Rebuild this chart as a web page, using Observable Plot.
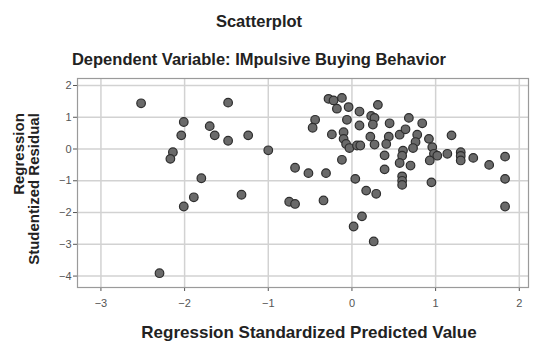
<!DOCTYPE html>
<html>
<head>
<meta charset="utf-8">
<script src="https://cdn.jsdelivr.net/npm/d3@7"></script>
<script src="https://cdn.jsdelivr.net/npm/@observablehq/plot@0.6"></script>
<style>
  body { margin: 0; background: #fff; }
  #wrap { position: relative; width: 536px; height: 345px; overflow: hidden; font-family: Arial, "Liberation Sans", sans-serif; color: #222; }
  .lbl { position: absolute; white-space: nowrap; }
  #title { left: 0; width: 518px; top: 12px; text-align: center; font-size: 16.5px; font-weight: bold; line-height: 19px; }
  #subtitle { left: 0; width: 518px; top: 50px; text-align: center; font-size: 16.5px; font-weight: bold; line-height: 19px; }
  #xlabel { left: 72px; width: 474px; top: 323px; text-align: center; font-size: 17px; font-weight: bold; line-height: 20px; }
  #ylabel { left: 25.5px; top: 189px; transform: translate(-50%, -50%) rotate(-90deg); text-align: right; font-size: 15px; font-weight: bold; line-height: 15px; }
  #chart { position: absolute; left: 0; top: 0; }
</style>
</head>
<body>
<div id="wrap">
  <div id="chart"></div>
  <div id="title" class="lbl">Scatterplot</div>
  <div id="subtitle" class="lbl">Dependent Variable: IMpulsive Buying Behavior</div>
  <div id="xlabel" class="lbl">Regression Standardized Predicted Value</div>
  <div id="ylabel" class="lbl">Regression<br>Studentized Residual</div>
</div>
<script>
// Regression Standardized Predicted Value
const predicted = [
  -2.52, -2.01, -2.04, -2.14, -2.17, -1.80, -1.70, -1.64, -1.48, -1.48,
  -1.24, -1.00, -0.68, -1.89, -2.01, -1.32, -0.75, -0.68, -2.30, -0.34,
  -0.52, -0.31, 0.04, 0.17, 0.29, 0.12, 0.02, 0.26, 0.60, 0.60,
  0.60, 0.95, 1.83, 1.83, -0.28, -0.22, -0.12, -0.18, -0.04, 0.09,
  0.31, 0.23, 0.27, -0.06, 0.09, 0.25, -0.44, -0.47, -0.24, -0.10,
  -0.10, -0.07, -0.03, 0.06, 0.10, 0.22, 0.27, 0.45, 0.44, 0.41,
  0.39, 0.39, 0.68, 0.84, 0.57, 0.64, 0.78, 0.76, 0.73, 0.61,
  0.60, 0.57, 0.70, 0.92, 0.96, 0.98, 1.02, 0.93, 1.19, 1.14,
  1.30, 1.30, 1.30, 1.45, 1.64, 1.83, -0.12
];
// Regression Studentized Residual
const residual = [
  1.44, 0.85, 0.43, -0.10, -0.31, -0.92, 0.72, 0.43, 1.46, 0.26,
  0.43, -0.04, -0.59, -1.52, -1.81, -1.44, -1.66, -1.73, -3.91, -1.62,
  -0.76, -0.76, -0.94, -1.31, -1.41, -2.12, -2.44, -2.91, -0.86, -1.00,
  -1.13, -1.05, -0.94, -1.81, 1.58, 1.53, 1.61, 1.27, 1.32, 1.18,
  1.39, 1.04, 0.98, 0.92, 0.74, 0.77, 0.92, 0.67, 0.46, 0.53,
  0.32, 0.16, 0.03, 0.11, 0.11, 0.39, 0.14, 0.81, 0.39, 0.16,
  -0.20, -0.64, 0.98, 0.81, 0.45, 0.62, 0.45, 0.22, 0.03, -0.05,
  -0.21, -0.44, -0.52, 0.32, 0.06, -0.15, -0.21, -0.36, 0.43, -0.15,
  -0.10, -0.22, -0.36, -0.28, -0.50, -0.24, -0.34
];
const xTicks = [-3, -2, -1, 0, 1, 2];
const yTicks = [2, 1, 0, -1, -2, -3, -4];

const points = predicted.map((x, i) => ({x, y: residual[i]}));

const chart = Plot.plot({
  width: 536,
  height: 345,
  marginLeft: 77,
  marginRight: 8,
  marginTop: 78,
  marginBottom: 58,
  style: {fontFamily: 'Arial, "Liberation Sans", sans-serif', fontSize: "11px", color: "#555", background: "transparent"},
  x: {domain: [-3.28, 2.11], ticks: xTicks, tickFormat: d3.format("d"), tickSize: 4, tickPadding: 8, label: null},
  y: {domain: [-4.36, 2.22], ticks: yTicks, tickFormat: d3.format("d"), tickSize: 4, tickPadding: 2, label: null},
  marks: [
    Plot.gridX(xTicks, {stroke: "#d2d2d2", strokeOpacity: 1, strokeWidth: 1.5}),
    Plot.gridY(yTicks, {stroke: "#d2d2d2", strokeOpacity: 1, strokeWidth: 1.5}),
    Plot.frame({stroke: "#9a9a9a", strokeWidth: 1.2}),
    Plot.dot(points, {x: "x", y: "y", r: 4.3, fill: "#6a6a6a", stroke: "#2e2e2e", strokeWidth: 1.2})
  ]
});
document.getElementById("chart").appendChild(chart);
</script>
</body>
</html>
